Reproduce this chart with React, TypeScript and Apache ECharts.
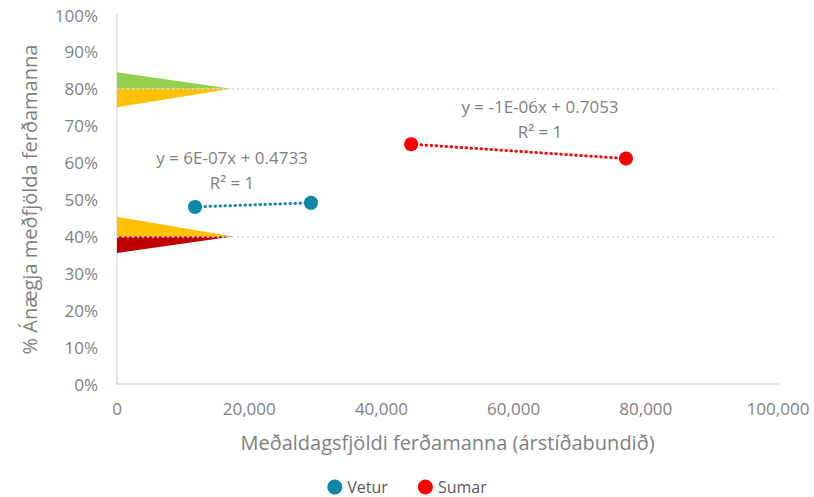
import React, { useEffect, useRef } from "react";
import * as echarts from "echarts";

// Data
const veturX = [11800, 29350];
const veturY = [0.48, 0.491];
const sumarX = [44500, 77000];
const sumarY = [0.65, 0.611];
const refLevels = [0.8, 0.4];
// wedges
const wedgeTipX = [17300, 17500];
const wedgeLevel = [0.8, 0.4];
const wedgeTop = [0.845, 0.453];
const wedgeBottom = [0.75, 0.355];
const wedgeTopColors = ["#92d050", "#ffc000"];
const wedgeBottomColors = ["#ffc000", "#c00000"];
const veturEq = ["y = 6E-07x + 0.4733", "R² = 1"];
const sumarEq = ["y = -1E-06x + 0.7053", "R² = 1"];

const FONT = "'Open Sans', 'Liberation Sans', sans-serif";
const GRAY = "#7f7f7f";
const TEAL = "#0f86a6";
const RED = "#ff0000";

export default function App() {
  const ref = useRef<HTMLDivElement>(null);
  useEffect(() => {
    if (!ref.current) return;
    const chart = echarts.init(ref.current, undefined, { renderer: "svg" });
    const wedgeData = wedgeTipX.map((t, i) => [t, wedgeLevel[i], wedgeTop[i], wedgeBottom[i], i]);
    const eqText = (lines: string[], cx: number, y1: number, y2: number) => [
      {
        type: "text",
        x: cx,
        y: y1,
        style: { text: lines[0], fill: GRAY, font: `17px ${FONT}`, align: "center", verticalAlign: "middle" },
      },
      {
        type: "text",
        x: cx,
        y: y2,
        style: { text: lines[1], fill: GRAY, font: `17px ${FONT}`, align: "center", verticalAlign: "middle" },
      },
    ];
    chart.setOption({
      animation: false,
      textStyle: { fontFamily: FONT },
      grid: { left: 117, right: 36, top: 15, bottom: 113 },
      xAxis: {
        type: "value",
        min: 0,
        max: 100000,
        interval: 20000,
        name: "Meðaldagsfjöldi ferðamanna (árstíðabundið)",
        nameLocation: "middle",
        nameGap: 48,
        nameTextStyle: { color: GRAY, fontSize: 20, fontFamily: FONT },
        axisLine: { show: true, lineStyle: { color: "#d9d9d9", width: 1.5 } },
        axisTick: { show: false },
        splitLine: { show: false },
        axisLabel: {
          color: GRAY,
          fontSize: 17,
          margin: 16,
          fontFamily: FONT,
          formatter: (v: number) => v.toLocaleString("en-US"),
        },
      },
      yAxis: {
        type: "value",
        min: 0,
        max: 1,
        interval: 0.1,
        name: "% Ánægja meðfjölda ferðamanna",
        nameLocation: "middle",
        nameGap: 78,
        nameTextStyle: { color: GRAY, fontSize: 20, fontFamily: FONT },
        axisLine: { show: true, lineStyle: { color: "#d9d9d9", width: 1.5 } },
        axisTick: { show: false },
        splitLine: { show: false },
        axisLabel: {
          color: GRAY,
          fontSize: 17,
          margin: 19,
          fontFamily: FONT,
          formatter: (v: number) => Math.round(v * 100) + "%",
        },
      },
      legend: {
        top: 478,
        left: "center",
        padding: 0,
        itemGap: 30,
        itemWidth: 15,
        itemHeight: 15,
        textStyle: { color: "#595959", fontSize: 16, fontFamily: FONT, lineHeight: 18 },
        data: [
          { name: "Vetur", icon: "circle", itemStyle: { color: TEAL, opacity: 1 } },
          { name: "Sumar", icon: "circle", itemStyle: { color: RED, opacity: 1 } },
        ],
      },
      series: [
        {
          type: "line",
          name: "refs",
          data: [],
          silent: true,
          markLine: {
            symbol: "none",
            silent: true,
            label: { show: false },
            lineStyle: { color: "#d9d9d9", type: [2, 3], width: 1.5 },
            data: refLevels.map((y) => ({ yAxis: y })),
          },
          z: 1,
        },
        {
          type: "custom",
          name: "wedges",
          silent: true,
          z: 2,
          renderItem: (params: any, api: any) => {
            const tipX = api.value(0);
            const lvl = api.value(1);
            const top = api.value(2);
            const bot = api.value(3);
            const idx = api.value(4);
            const pTip = api.coord([tipX, lvl]);
            const pLvl = api.coord([0, lvl]);
            const pTop = api.coord([0, top]);
            const pBot = api.coord([0, bot]);
            return {
              type: "group",
              children: [
                { type: "polygon", shape: { points: [pTop, pTip, pLvl] }, style: { fill: wedgeTopColors[idx] } },
                { type: "polygon", shape: { points: [pLvl, pTip, pBot] }, style: { fill: wedgeBottomColors[idx] } },
              ],
            };
          },
          data: wedgeData,
        },
        {
          type: "line",
          name: "VeturTrend",
          data: veturX.map((x, i) => [x, veturY[i]]),
          symbol: "none",
          lineStyle: { color: TEAL, width: 3, type: [0.5, 4.5], cap: "round" },
          silent: true,
          z: 3,
        },
        {
          type: "line",
          name: "SumarTrend",
          data: sumarX.map((x, i) => [x, sumarY[i]]),
          symbol: "none",
          lineStyle: { color: RED, width: 3, type: [0.5, 4.5], cap: "round" },
          silent: true,
          z: 3,
        },
        {
          type: "scatter",
          name: "Vetur",
          data: veturX.map((x, i) => [x, veturY[i]]),
          symbol: "circle",
          symbolSize: 14,
          itemStyle: { color: TEAL, opacity: 1 },
          z: 4,
        },
        {
          type: "scatter",
          name: "Sumar",
          data: sumarX.map((x, i) => [x, sumarY[i]]),
          symbol: "circle",
          symbolSize: 14,
          itemStyle: { color: RED, opacity: 1 },
          z: 4,
        },
      ],
      graphic: [...eqText(veturEq, 232, 157, 182), ...eqText(sumarEq, 540, 106, 131)],
    });
    return () => chart.dispose();
  }, []);
  return (
    <div
      ref={ref}
      style={{ position: "fixed", left: 0, top: 0, width: 814, height: 497, background: "#fff" }}
    />
  );
}
